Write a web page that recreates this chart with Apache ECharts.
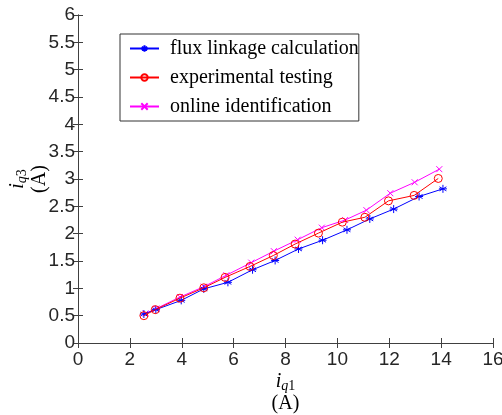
<!DOCTYPE html>
<html><head><meta charset="utf-8">
<script src="https://cdn.jsdelivr.net/npm/echarts@6/dist/echarts.min.js"></script>
<style>html,body{margin:0;padding:0;background:#fff}#c{width:502px;height:415px}</style>
</head><body><div id="c"></div>
<script>
const xTicks = [0, 2, 4, 6, 8, 10, 12, 14, 16];
const yTicks = [0, 0.5, 1, 1.5, 2, 2.5, 3, 3.5, 4, 4.5, 5, 5.5, 6];
const seriesNames = ['flux linkage calculation', 'experimental testing', 'online identification'];
const fluxX = [2.54, 3.0, 3.98, 4.85, 5.78, 6.73, 7.60, 8.50, 9.43, 10.37, 11.25, 12.17, 13.15, 14.07];
const fluxY = [0.53, 0.61, 0.78, 0.99, 1.11, 1.34, 1.51, 1.72, 1.88, 2.07, 2.27, 2.45, 2.68, 2.82];
const expX = [2.54, 2.98, 3.93, 4.85, 5.67, 6.63, 7.53, 8.37, 9.27, 10.19, 11.06, 11.97, 12.96, 13.89];
const expY = [0.50, 0.61, 0.82, 1.01, 1.20, 1.40, 1.60, 1.81, 2.01, 2.21, 2.30, 2.60, 2.70, 3.01];
const onlX = [2.60, 3.02, 3.93, 4.85, 5.72, 6.68, 7.55, 8.47, 9.40, 10.30, 11.12, 12.04, 12.98, 13.93];
const onlY = [0.54, 0.63, 0.84, 1.03, 1.24, 1.47, 1.68, 1.89, 2.11, 2.25, 2.43, 2.74, 2.94, 3.18];

const zip = (a, b) => a.map((v, i) => [v, b[i]]);
const chart = echarts.init(document.getElementById('c'), null, {renderer: 'canvas'});
const axisCol = '#404040';
const sans = 'Liberation Sans';
const serif = 'Liberation Serif';
const asterisk = 'path://M0,-5L0,5M-4.33,-2.5L4.33,2.5M-4.33,2.5L4.33,-2.5M-5,0L5,0';
const cross = 'path://M-5,-5L5,5M-5,5L5,-5';
const ring = 'path://M5,0A5,5,0,1,1,-5,0A5,5,0,1,1,5,0Z';
const baseX = {
  type: 'value', min: xTicks[0], max: xTicks[xTicks.length - 1], interval: 2,
  splitLine: {show: false},
  axisLine: {lineStyle: {color: axisCol, width: 1}},
  axisTick: {inside: true, length: 5, lineStyle: {color: axisCol}}
};
const baseY = {
  type: 'value', min: yTicks[0], max: yTicks[yTicks.length - 1], interval: 0.5,
  splitLine: {show: false},
  axisLine: {lineStyle: {color: axisCol, width: 1}},
  axisTick: {inside: true, length: 5, lineStyle: {color: axisCol}}
};
const nameRich = {
  i: {fontFamily: serif, fontStyle: 'italic', fontSize: 20, color: '#000', lineHeight: 22},
  s: {fontFamily: serif, fontStyle: 'italic', fontSize: 14, color: '#000', padding: [8, 0, 0, 0], lineHeight: 22},
  d: {fontFamily: serif, fontSize: 14, color: '#000', padding: [8, 0, 0, 0], lineHeight: 22},
  n: {fontFamily: serif, fontSize: 20, color: '#000', lineHeight: 22}
};
chart.setOption({
  animation: false,
  grid: {left: 78, right: 9, top: 15, bottom: 72, outerBoundsMode: 'none', containLabel: false},
  legend: {
    orient: 'vertical', left: 120, top: 34,
    data: seriesNames,
    backgroundColor: '#fff', borderColor: '#333', borderWidth: 1,
    padding: [4, 0, 4, 9], itemGap: 8, itemWidth: 29, itemHeight: 8,
    textStyle: {fontFamily: serif, fontSize: 20, color: '#000', padding: [0, 0, 0, 6], lineHeight: 21}
  },
  xAxis: [
    Object.assign({}, baseX, {
      position: 'bottom',
      axisLabel: {fontFamily: sans, fontSize: 19, color: '#262626', margin: 7},
      name: '{i|i}{s|q}{d|1}\n{n|(A)}', nameLocation: 'middle', nameGap: 28, nameMoveOverlap: false,
      nameTextStyle: {rich: nameRich}
    }),
    Object.assign({}, baseX, {position: 'top', axisLabel: {show: false}})
  ],
  yAxis: [
    Object.assign({}, baseY, {
      position: 'left',
      axisLabel: {fontFamily: sans, fontSize: 19, color: '#262626', margin: 3},
      name: '{i|i}{s|q}{d|3}\n{n|(A)}', nameLocation: 'middle', nameGap: 27, nameRotate: 90, nameMoveOverlap: false,
      nameTextStyle: {rich: nameRich}
    }),
    Object.assign({}, baseY, {position: 'right', axisLabel: {show: false}})
  ],
  series: [
    {name: seriesNames[0], type: 'line', data: zip(fluxX, fluxY), symbol: asterisk, symbolSize: 8,
     lineStyle: {color: '#0000ff', width: 1}, itemStyle: {color: '#0000ff', borderColor: '#0000ff', borderWidth: 1}, z: 3},
    {name: seriesNames[1], type: 'line', data: zip(expX, expY), symbol: ring, symbolSize: 8,
     lineStyle: {color: '#ff0000', width: 1}, itemStyle: {color: 'rgba(0,0,0,0)', borderColor: '#ff0000', borderWidth: 1}, z: 4},
    {name: seriesNames[2], type: 'line', data: zip(onlX, onlY), symbol: cross, symbolSize: 6,
     lineStyle: {color: '#ff00ff', width: 1}, itemStyle: {color: '#ff00ff', borderColor: '#ff00ff', borderWidth: 1}, z: 2}
  ]
});
</script></body></html>
